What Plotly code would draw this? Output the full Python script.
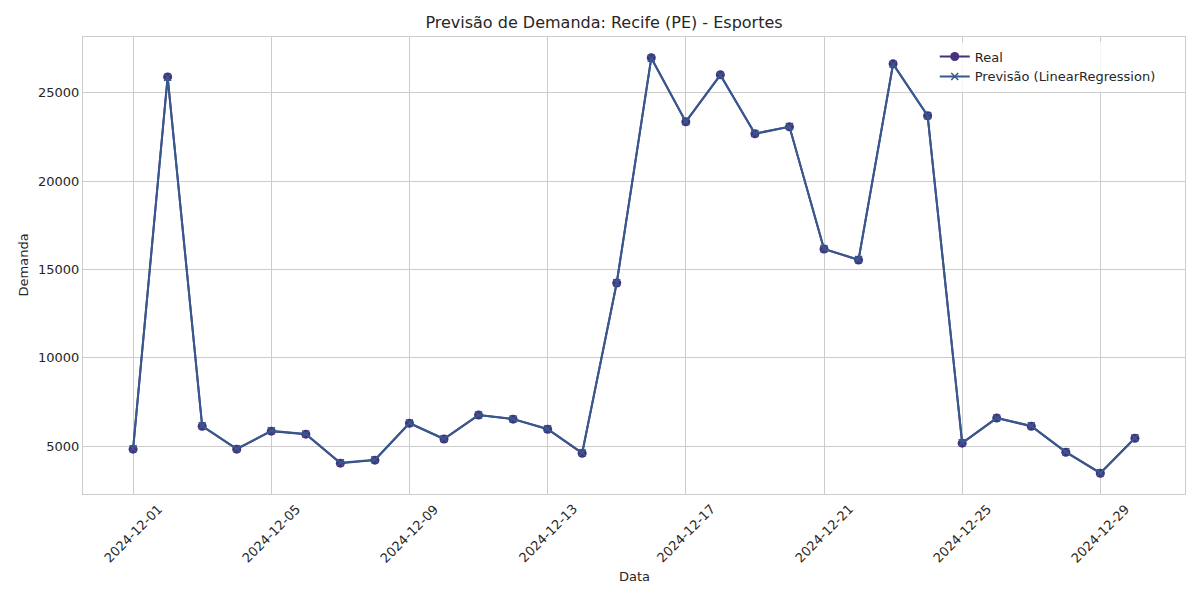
import plotly.graph_objects as go
import pandas as pd

datas = pd.date_range("2024-12-01", "2024-12-30", freq="D")
real = [4830, 25900, 6130, 4830, 5850, 5680, 4040, 4210, 6300, 5400,
        6760, 6530, 5960, 4600, 14236, 26984, 23357, 26020, 22680, 23075,
        16160, 15540, 26640, 23700, 5170, 6590, 6130, 4660, 3470, 5450]
previsao = [4850, 25880, 6150, 4850, 5870, 5690, 4060, 4230, 6310, 5420,
            6770, 6540, 5980, 4620, 14250, 26960, 23370, 26000, 22700, 23090,
            16170, 15560, 26620, 23710, 5190, 6600, 6150, 4680, 3490, 5470]
tick_vals = ["2024-12-01", "2024-12-05", "2024-12-09", "2024-12-13",
             "2024-12-17", "2024-12-21", "2024-12-25", "2024-12-29"]

FONT = "DejaVu Sans"
TXT = "#262626"
fig = go.Figure()
fig.add_trace(go.Scatter(x=datas, y=real, mode="lines+markers", name="Real",
                         line=dict(color="#47307d", width=2),
                         marker=dict(symbol="circle", size=9, color="#47307d")))
fig.add_trace(go.Scatter(x=datas, y=previsao, mode="lines+markers",
                         name="Previsão (LinearRegression)",
                         line=dict(color="#365a8d", width=2),
                         marker=dict(symbol="x-thin", size=7,
                                     line=dict(color="#365a8d", width=1.5))))

# rotated, centre-aligned date labels (matplotlib style)
for t in tick_vals:
    fig.add_annotation(x=t, xref="x", y=0, yref="paper", text=t,
                       showarrow=False, textangle=-45, xanchor="center",
                       yanchor="top", yshift=-4,
                       font=dict(family=FONT, size=13, color=TXT))
fig.add_annotation(x=0.5, xref="paper", y=-0.1816, yref="paper", text="Data",
                   showarrow=False, xanchor="center", yanchor="middle",
                   font=dict(family=FONT, size=13, color=TXT))
fig.add_annotation(x=0, xref="paper", xshift=-60, y=0.5, yref="paper",
                   text="Demanda", showarrow=False, textangle=-90,
                   xanchor="center", yanchor="middle",
                   font=dict(family=FONT, size=13, color=TXT))

fig.update_layout(
    width=1192, height=592,
    margin=dict(l=75, r=15, t=29, b=106),
    paper_bgcolor="white", plot_bgcolor="white",
    font=dict(family=FONT, size=13, color=TXT),
    title=dict(text="Previsão de Demanda: Recife (PE) - Esportes",
               x=0.5, xanchor="center", y=0.975, yanchor="middle",
               font=dict(size=16, color=TXT)),
    legend=dict(x=0.978, y=0.99, xanchor="right", yanchor="top",
                bgcolor="rgba(255,255,255,0.8)", borderwidth=0,
                font=dict(size=13)),
    xaxis=dict(
        range=["2024-11-29 13:12", "2024-12-31 10:48"],
        tickmode="array", tickvals=tick_vals, showticklabels=False,
        showgrid=True, gridcolor="#cccccc", gridwidth=1,
        showline=True, linecolor="#cccccc", mirror=True, zeroline=False,
        ticks="", automargin=False,
    ),
    yaxis=dict(
        range=[2294, 28160], automargin=False,
        tickvals=[5000, 10000, 15000, 20000, 25000], tickformat="d",
        showgrid=True, gridcolor="#cccccc", gridwidth=1,
        showline=True, linecolor="#cccccc", mirror=True, zeroline=False,
        ticks="", tickfont=dict(size=13),
    ),
)
fig.write_html("out.html")
